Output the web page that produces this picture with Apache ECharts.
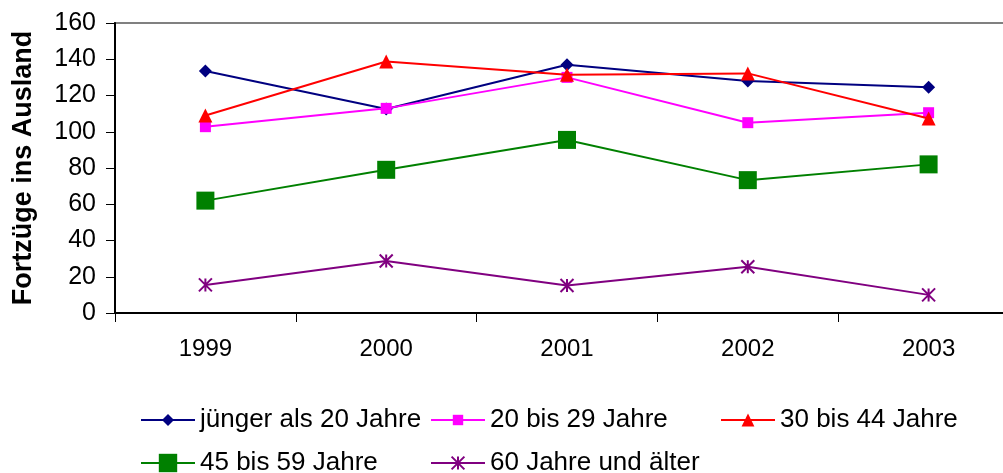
<!DOCTYPE html>
<html>
<head>
<meta charset="utf-8">
<script src="https://cdn.jsdelivr.net/npm/echarts@6/dist/echarts.min.js"></script>
<style>
html,body{margin:0;padding:0;background:#fff;overflow:hidden;width:1003px;height:473px;}
#c{width:1019px;height:473px;}
</style>
</head>
<body>
<div id="c"></div>
<script>
const categories = ['1999', '2000', '2001', '2002', '2003'];
const seriesNames = ['jünger als 20 Jahre', '20 bis 29 Jahre', '30 bis 44 Jahre', '45 bis 59 Jahre', '60 Jahre und älter'];
const under20 = [133.5, 112.6, 137, 128, 124.5];
const age20to29 = [102.8, 112.9, 130, 105, 110.5];
const age30to44 = [109, 138.8, 131.5, 132.2, 107.3];
const age45to59 = [62, 79, 95.5, 73.3, 82];
const age60plus = [15.5, 28.7, 15.2, 25.5, 10];
const yTicks = [0, 20, 40, 60, 80, 100, 120, 140, 160];
const yAxisName = 'Fortzüge ins Ausland';

const FONT = '"Liberation Sans", Arial, sans-serif';
const starPath = 'path://M0,0L10,10M10,0L0,10M5,0L5,10';

const styles = [
  {color: '#000080', symbol: 'diamond', size: 13},
  {color: '#FF00FF', symbol: 'rect', size: 11},
  {color: '#FF0000', symbol: 'triangle', size: 14},
  {color: '#008000', symbol: 'rect', size: 18},
  {color: '#800080', symbol: starPath, size: 13}
];
const dataSets = [under20, age20to29, age30to44, age45to59, age60plus];

const series = dataSets.map((d, i) => ({
  name: seriesNames[i],
  type: 'line',
  data: d,
  symbol: styles[i].symbol,
  symbolSize: styles[i].size,
  showAllSymbol: true,
  lineStyle: {color: styles[i].color, width: 2},
  itemStyle: i === 4
    ? {color: styles[i].color, borderColor: styles[i].color, borderWidth: 2}
    : {color: styles[i].color, borderWidth: 0},
  emphasis: {disabled: true},
  z: 2 + i
}));

const legendPos = [
  {left: 140, top: 405, h: 15},
  {left: 430, top: 405, h: 13},
  {left: 720, top: 405, h: 16},
  {left: 140, top: 448, h: 23},
  {left: 430, top: 448, h: 16}
];
const legends = legendPos.map((p, i) => ({
  data: [seriesNames[i]],
  left: p.left,
  top: p.top,
  padding: 0,
  itemWidth: 54,
  itemHeight: p.h,
  selectedMode: false,
  textStyle: {fontFamily: FONT, fontSize: 26, color: '#000', lineHeight: 30}
}));

const chart = echarts.init(document.getElementById('c'), null, {renderer: 'canvas'});
chart.setOption({
  animation: false,
  backgroundColor: '#fff',
  grid: {left: 115, right: 0, top: 23, bottom: 160, show: true, borderColor: '#808080', borderWidth: 2, containLabel: false},
  legend: legends,
  xAxis: {
    type: 'category',
    data: categories,
    boundaryGap: true,
    axisLine: {lineStyle: {color: '#000', width: 2}},
    axisTick: {show: true, length: 9, lineStyle: {color: '#000', width: 1}},
    axisLabel: {fontFamily: FONT, fontSize: 24, color: '#000', margin: 24},
    splitLine: {show: false}
  },
  yAxis: {
    type: 'value',
    min: yTicks[0],
    max: yTicks[yTicks.length - 1],
    interval: 20,
    name: yAxisName,
    nameLocation: 'middle',
    nameGap: 78,
    nameTextStyle: {fontFamily: FONT, fontSize: 27, fontWeight: 'bold', color: '#000'},
    axisLine: {show: true, lineStyle: {color: '#000', width: 2}},
    axisTick: {show: true, length: 9, lineStyle: {color: '#000', width: 1}},
    axisLabel: {fontFamily: FONT, fontSize: 25, color: '#000', margin: 19},
    splitLine: {show: false}
  },
  series: series
});
</script>
</body>
</html>
